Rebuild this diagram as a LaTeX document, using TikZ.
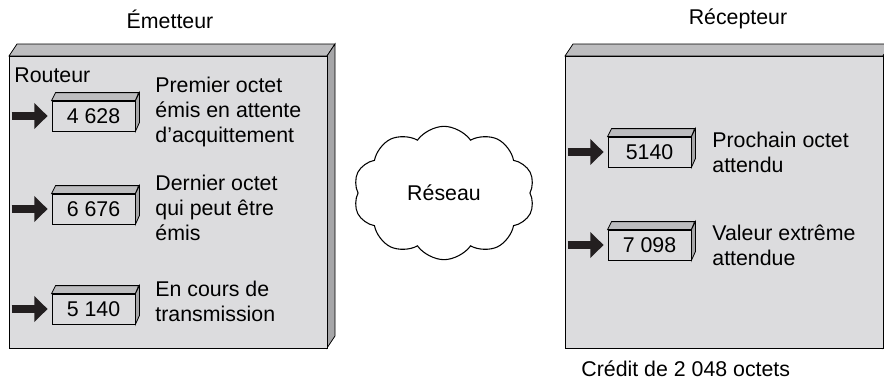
\documentclass[tikz,border=0pt]{standalone}
\usepackage{fontspec}
\setmainfont{Liberation Sans}
\usetikzlibrary{shapes.symbols,arrows.meta}

\definecolor{panelgray}{HTML}{DCDCDE}
\definecolor{topgray}{HTML}{BDBDBF}
\definecolor{sidegray}{HTML}{A6A6A8}
\definecolor{arrowblack}{HTML}{231F20}

\tikzset{
  txt/.style={font=\fontsize{16}{18.75}\selectfont},
  valbox/.style={txt, draw, fill=panelgray, minimum width=62.25pt, minimum height=22.5pt, inner sep=0pt},
  note/.style={txt, anchor=west, align=left, inner sep=0pt},
  bigarrow/.style={draw=arrowblack, line width=6pt, -{Triangle[length=10pt,width=19pt]}, shorten >=3pt},
}

\begin{document}
\begin{tikzpicture}[x=0.75pt, y=-0.75pt, semithick]
    \useasboundingbox (0,0) rectangle (884,382);

    % the two stations
    \foreach \x in {9,565} {
        \draw[fill=topgray] (\x,56) -- ++(8,-12) -- ++(318,0) -- ++(-8,12) -- cycle;
        \draw[fill=sidegray] (\x+318,56) -- ++(8,-12) -- ++(0,292) -- ++(-8,12) -- cycle;
        \draw[fill=panelgray] (\x,56) rectangle ++(318,292);
    }

    \node[txt] (emet) at (170,19) {Émetteur};
    \node[txt] (recep) at (738,19) {Récepteur};
    \node[note] (rout) at (14,75) {Routeur};

    % counters
    \node[valbox] (s1) at (93.5,116) {4 628};
    \node[valbox] (s2) at (93.5,209) {6 676};
    \node[valbox] (s3) at (93.5,309) {5 140};
    \node[valbox] (r1) at (649.5,152) {5140};
    \node[valbox] (r2) at (649.5,245) {7 098};

    \foreach \b in {s1,s2,s3,r1,r2} {
        \draw[fill=topgray] (\b.north west) -- ++(4,-8) -- ++(83,0) -- (\b.north east) -- cycle;
        \draw[fill=sidegray] (\b.north east) -- ++(4,-8) -- ++(0,30) -- (\b.south east) -- cycle;
        \coordinate (\b-tail) at ([xshift=-30pt]\b.west);
        \draw[bigarrow] (\b-tail) -- (\b.west);
    }

    \node[note] (l1) at (155,112) {Premier octet\\émis en attente\\d’acquittement};
    \node[note] (l2) at (155,208) {Dernier octet\\qui peut être\\émis};
    \node[note] (l3) at (155,301) {En cours de\\transmission};
    \node[note] (m1) at (712,152) {Prochain octet\\attendu};
    \node[note] (m2) at (712,245) {Valeur extrême\\attendue};

    \node[cloud, draw, line width=0.8pt, fill=white, cloud puffs=10, cloud puff arc=110,
          aspect=1.35, minimum width=136pt, minimum height=100pt, txt] (net) at (444,193) {Réseau};

    \node[note] (cred) at (581,369) {Crédit de 2 048 octets};
\end{tikzpicture}
\end{document}
